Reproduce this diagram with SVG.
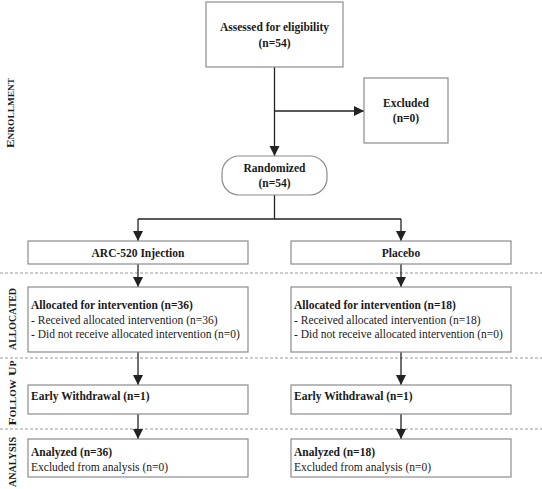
<svg xmlns="http://www.w3.org/2000/svg" width="542" height="489" viewBox="0 0 542 489">
<defs>
<marker id="ah" markerWidth="10" markerHeight="12" refX="10" refY="6" orient="auto" markerUnits="userSpaceOnUse">
<path d="M0,1 L10,6 L0,11 Z" fill="#222"/>
</marker>
<style>
.box{fill:#fff;stroke:#8c8c8c;stroke-width:1.2}
.conn{fill:none;stroke:#222;stroke-width:1.3}
.dash{stroke:#9a9a9a;stroke-width:1;stroke-dasharray:3 2}
text{font-family:"Liberation Serif","Times New Roman",serif;font-size:11.5px;fill:#1a1a1a}
.b{font-weight:bold}
.c{text-anchor:middle}
.lab{font-weight:bold;font-variant:small-caps;font-size:11px;text-anchor:middle}
</style>
</defs>
<rect width="542" height="489" fill="#fff"/>
<g id="phases">
<line class="dash" x1="0" y1="273" x2="542" y2="273"/>
<line class="dash" x1="0" y1="358" x2="542" y2="358"/>
<line class="dash" x1="0" y1="429" x2="542" y2="429"/>
<text class="lab" transform="translate(14,113) rotate(-90)" textLength="70" lengthAdjust="spacingAndGlyphs">Enrollment</text>
<text class="lab" transform="translate(16,319) rotate(-90)" textLength="62" lengthAdjust="spacingAndGlyphs">ALLOCATED</text>
<text class="lab" transform="translate(16,393) rotate(-90)" textLength="65" lengthAdjust="spacingAndGlyphs">Follow Up</text>
<text class="lab" transform="translate(16,462) rotate(-90)" textLength="50" lengthAdjust="spacingAndGlyphs">ANALYSIS</text>
</g>
<g id="connectors">
<line class="conn" x1="274.5" y1="67" x2="274.5" y2="156" marker-end="url(#ah)"/>
<line class="conn" x1="274.5" y1="111" x2="364" y2="111" marker-end="url(#ah)"/>
<polyline class="conn" points="274.5,195 274.5,219"/>
<line class="conn" x1="138" y1="219" x2="401" y2="219"/>
<line class="conn" x1="138" y1="219" x2="138" y2="241" marker-end="url(#ah)"/>
<line class="conn" x1="401" y1="219" x2="401" y2="241" marker-end="url(#ah)"/>
<line class="conn" x1="138" y1="264" x2="138" y2="287" marker-end="url(#ah)"/>
<line class="conn" x1="401" y1="264" x2="401" y2="287" marker-end="url(#ah)"/>
<line class="conn" x1="138" y1="352" x2="138" y2="385" marker-end="url(#ah)"/>
<line class="conn" x1="401" y1="352" x2="401" y2="385" marker-end="url(#ah)"/>
<line class="conn" x1="138" y1="414" x2="138" y2="439" marker-end="url(#ah)"/>
<line class="conn" x1="401" y1="414" x2="401" y2="439" marker-end="url(#ah)"/>
</g>
<g id="assessed">
<rect class="box" x="206" y="2" width="137" height="65"/>
<text class="b c" x="274.5" y="31">Assessed for eligibility</text>
<text class="b c" x="274.5" y="47">(n=54)</text>
</g>
<g id="excluded">
<rect class="box" x="364" y="78" width="84" height="65"/>
<text class="b c" x="406" y="107">Excluded</text>
<text class="b c" x="406" y="122">(n=0)</text>
</g>
<g id="randomized">
<rect class="box" x="222" y="156" width="105" height="39" rx="17" ry="17"/>
<text class="b c" x="274.5" y="172">Randomized</text>
<text class="b c" x="274.5" y="187">(n=54)</text>
</g>
<g id="arc">
<rect class="box" x="28" y="241" width="220" height="23"/>
<text class="b c" x="138" y="257">ARC-520 Injection</text>
</g>
<g id="placebo">
<rect class="box" x="291" y="241" width="220" height="23"/>
<text class="b c" x="401" y="257">Placebo</text>
</g>
<g id="alloc-arc">
<rect class="box" x="28" y="287" width="220" height="65"/>
<text class="b" x="31" y="309">Allocated for intervention (n=36)</text>
<text x="31" y="324">- Received allocated intervention (n=36)</text>
<text x="31" y="338">- Did not receive allocated intervention (n=0)</text>
</g>
<g id="alloc-placebo">
<rect class="box" x="291" y="287" width="220" height="65"/>
<text class="b" x="294" y="309">Allocated for intervention (n=18)</text>
<text x="294" y="324">- Received allocated intervention (n=18)</text>
<text x="294" y="338">- Did not receive allocated intervention (n=0)</text>
</g>
<g id="follow-arc">
<rect class="box" x="28" y="385" width="220" height="29"/>
<text class="b" x="31" y="400">Early Withdrawal (n=1)</text>
</g>
<g id="follow-placebo">
<rect class="box" x="291" y="385" width="220" height="29"/>
<text class="b" x="294" y="400">Early Withdrawal (n=1)</text>
</g>
<g id="analysis-arc">
<rect class="box" x="28" y="439" width="220" height="38"/>
<text class="b" x="31" y="456">Analyzed (n=36)</text>
<text x="31" y="471">Excluded from analysis (n=0)</text>
</g>
<g id="analysis-placebo">
<rect class="box" x="291" y="439" width="220" height="38"/>
<text class="b" x="294" y="456">Analyzed (n=18)</text>
<text x="294" y="471">Excluded from analysis (n=0)</text>
</g>
</svg>
